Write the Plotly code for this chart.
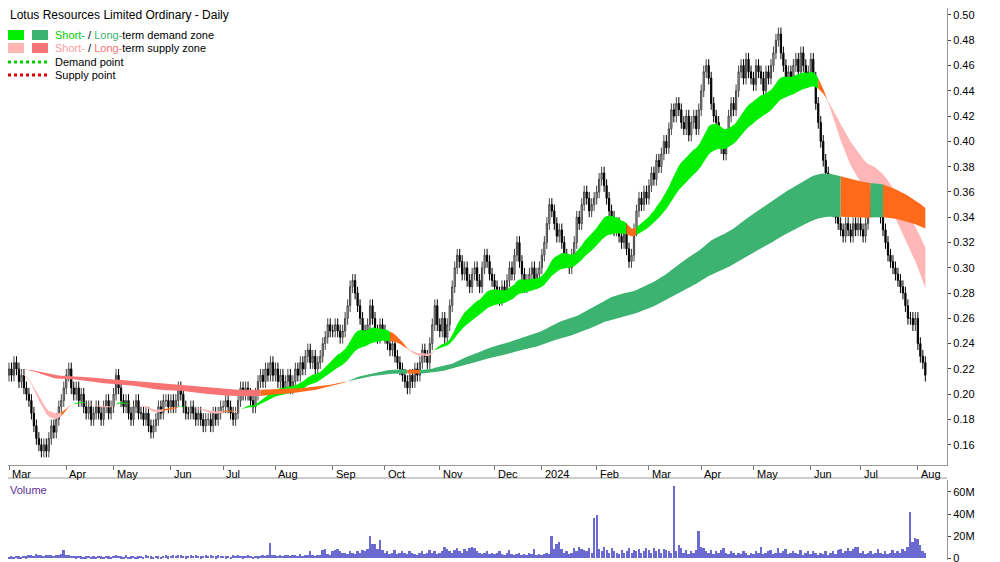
import numpy as np
import pandas as pd
import plotly.graph_objects as go

# daily closes, one list per month (Feb 2023 tail .. Aug 2024)
months = ["Feb", "Mar", "Apr", "May", "Jun", "Jul", "Aug", "Sep", "Oct", "Nov", "Dec",
          "2024", "Feb", "Mar", "Apr", "May", "Jun", "Jul", "Aug"]
close_m = [
    [0.220, 0.215],
    [0.220, 0.215, 0.225, 0.220, 0.210, 0.215, 0.205, 0.200, 0.195, 0.185, 0.175, 0.165, 0.160, 0.155, 0.160, 0.155, 0.165, 0.175, 0.170, 0.180, 0.190, 0.195, 0.205],
    [0.215, 0.220, 0.205, 0.200, 0.205, 0.195, 0.200, 0.190, 0.185, 0.190, 0.180, 0.185, 0.190, 0.185, 0.180, 0.190, 0.195, 0.185, 0.190],
    [0.200, 0.215, 0.205, 0.195, 0.190, 0.195, 0.185, 0.180, 0.190, 0.195, 0.185, 0.185, 0.180, 0.185, 0.175, 0.170, 0.175, 0.180, 0.190, 0.185, 0.195, 0.195, 0.190],
    [0.195, 0.190, 0.195, 0.205, 0.200, 0.190, 0.185, 0.185, 0.190, 0.185, 0.180, 0.185, 0.180, 0.175, 0.180, 0.180, 0.175, 0.185, 0.180, 0.185, 0.190],
    [0.190, 0.195, 0.190, 0.185, 0.180, 0.185, 0.195, 0.205, 0.200, 0.205, 0.200, 0.195, 0.190, 0.200, 0.210, 0.215, 0.210, 0.220, 0.215, 0.225, 0.215],
    [0.220, 0.210, 0.215, 0.205, 0.210, 0.215, 0.205, 0.210, 0.220, 0.215, 0.225, 0.220, 0.230, 0.235, 0.225, 0.230, 0.220, 0.225, 0.230, 0.240, 0.245, 0.255, 0.250],
    [0.250, 0.255, 0.250, 0.245, 0.250, 0.260, 0.270, 0.285, 0.290, 0.280, 0.270, 0.260, 0.250, 0.245, 0.255, 0.270, 0.260, 0.250, 0.245, 0.255, 0.250],
    [0.245, 0.240, 0.235, 0.240, 0.230, 0.225, 0.220, 0.215, 0.210, 0.205, 0.215, 0.210, 0.220, 0.215, 0.225, 0.235, 0.230, 0.225, 0.240, 0.255, 0.270, 0.255],
    [0.250, 0.260, 0.245, 0.255, 0.270, 0.285, 0.300, 0.310, 0.305, 0.295, 0.300, 0.290, 0.285, 0.295, 0.300, 0.290, 0.285, 0.300, 0.310, 0.305, 0.295, 0.290],
    [0.285, 0.280, 0.275, 0.285, 0.280, 0.290, 0.300, 0.295, 0.310, 0.320, 0.305, 0.295, 0.285, 0.290, 0.295, 0.300, 0.290, 0.295, 0.300],
    [0.310, 0.320, 0.335, 0.350, 0.345, 0.335, 0.325, 0.330, 0.320, 0.310, 0.305, 0.300, 0.310, 0.320, 0.340, 0.335, 0.350, 0.360, 0.355, 0.345, 0.350, 0.355],
    [0.360, 0.370, 0.375, 0.365, 0.355, 0.345, 0.340, 0.330, 0.335, 0.325, 0.320, 0.330, 0.315, 0.305, 0.310, 0.330, 0.345, 0.355, 0.350, 0.360, 0.355],
    [0.365, 0.375, 0.370, 0.385, 0.380, 0.390, 0.400, 0.395, 0.410, 0.425, 0.420, 0.430, 0.425, 0.415, 0.410, 0.420, 0.405, 0.415, 0.420, 0.410, 0.425],
    [0.440, 0.455, 0.460, 0.450, 0.430, 0.420, 0.415, 0.400, 0.395, 0.390, 0.405, 0.420, 0.430, 0.425, 0.440, 0.455, 0.460, 0.450, 0.465, 0.455, 0.450],
    [0.445, 0.460, 0.455, 0.450, 0.440, 0.455, 0.450, 0.460, 0.470, 0.480, 0.485, 0.470, 0.460, 0.450, 0.455, 0.445, 0.460, 0.465, 0.455, 0.470, 0.460, 0.450, 0.455],
    [0.465, 0.450, 0.430, 0.415, 0.400, 0.385, 0.375, 0.365, 0.355, 0.345, 0.340, 0.335, 0.330, 0.325, 0.335, 0.330, 0.325, 0.335, 0.330, 0.335],
    [0.330, 0.325, 0.335, 0.345, 0.365, 0.360, 0.350, 0.345, 0.340, 0.330, 0.320, 0.310, 0.305, 0.300, 0.295, 0.290, 0.285, 0.280, 0.270, 0.260, 0.260, 0.255, 0.260],
    [0.240, 0.230, 0.225, 0.215],
]
# daily volume in millions, same layout
vol_m = [
    [1.5, 1.2],
    [1, 1.5, 1, 2, 1.5, 1, 2, 1.5, 2.5, 3, 2, 3.5, 3, 2.5, 2, 3, 2.5, 3, 2, 2.5, 3, 4, 7],
    [3, 2.5, 2, 2, 1.5, 2, 1.5, 1, 1.5, 2, 1, 1.5, 1, 2, 1.5, 1, 2, 1.5, 1],
    [2, 3, 2, 1.5, 1, 2.5, 1, 1.5, 2, 1, 1.5, 2, 1, 2.5, 2, 1.5, 1, 2, 1.5, 1, 2, 2.5, 1.5],
    [2, 2.5, 2, 3, 2.5, 2, 1.5, 2, 3, 2, 2.5, 2, 1.5, 2, 3, 2, 2.5, 2, 1.5, 3, 2],
    [2, 1.5, 2, 1, 2.5, 2, 3, 2, 1.5, 2, 2.5, 2, 1, 2, 1.5, 2, 3, 2, 2.5, 14, 3],
    [2.5, 2, 3, 2, 2.5, 3, 2, 3, 2.5, 2, 3.5, 2, 3, 2.5, 6, 3, 2, 2.5, 3, 7, 8, 4, 3],
    [6, 7, 8, 6, 5, 5, 4, 6, 5, 4, 6, 5, 7, 6, 8, 20, 13, 13, 8, 16, 7],
    [5, 6, 4, 5, 7, 4, 5, 6, 5, 4, 6, 5, 4, 3, 5, 6, 4, 5, 7, 5, 6, 4],
    [5, 6, 10, 8, 6, 5, 7, 9, 6, 5, 8, 6, 9, 10, 9, 6, 5, 4, 5, 6, 4, 5],
    [4, 5, 6, 4, 3, 5, 7, 4, 3, 4, 5, 3, 4, 3, 5, 4, 8, 3, 4],
    [3, 4, 5, 4, 20, 8, 13, 15, 8, 5, 6, 4, 5, 9, 6, 10, 8, 7, 6, 9, 5, 36],
    [39, 8, 6, 10, 7, 5, 9, 6, 5, 4, 7, 5, 6, 9, 5, 7, 6, 8, 5, 6, 9],
    [7, 5, 9, 6, 8, 5, 8, 7, 6, 5, 65, 6, 12, 9, 5, 7, 4, 6, 5, 7, 25],
    [10, 9, 6, 5, 7, 4, 6, 5, 7, 9, 5, 4, 6, 5, 3, 5, 4, 6, 5, 3, 5],
    [4, 6, 5, 10, 4, 5, 6, 7, 4, 5, 9, 5, 6, 8, 4, 5, 6, 5, 4, 7, 3, 5, 6],
    [4, 6, 5, 3, 5, 4, 6, 3, 5, 6, 4, 7, 8, 5, 6, 9, 6, 8, 10, 10],
    [5, 6, 4, 5, 6, 4, 5, 8, 5, 4, 6, 4, 5, 7, 5, 6, 5, 8, 6, 10, 42, 15, 18],
    [17, 12, 6, 5],
]
price_ticks = [0.16, 0.18, 0.20, 0.22, 0.24, 0.26, 0.28, 0.30, 0.32, 0.34, 0.36, 0.38,
               0.40, 0.42, 0.44, 0.46, 0.48, 0.50]
vol_ticks = [0, 20, 40, 60]
vol_labels = ["0", "20M", "40M", "60M"]

close = np.array([c for m in close_m for c in m])
vol = np.array([v for m in vol_m for v in m]) * 1e6
n = len(close)
x = np.arange(n)
opn = np.r_[close[0], close[:-1]]
WICK = 0.005
high = np.maximum(opn, close) + WICK
low = np.minimum(opn, close) - WICK
month_start = np.cumsum([0] + [len(m) for m in close_m[:-1]])

s = pd.Series(close)
ref_price = s.ewm(span=4).mean().values  # lightly smoothed price used to colour the zones
bands = [  # fast, slow, demand, supply
    (s.ewm(span=25).mean().values, s.ewm(span=45).mean().values, "#00ee00", "#ffb6b6"),
    (s.ewm(span=160, adjust=False).mean().values, s.ewm(span=250, adjust=False).mean().values,
     "#3cb371", "#f87474"),
]
ORANGE = "#ff6a1a"

fig = go.Figure()
for fast, slow, dcol, scol in bands:
    lo_b, hi_b = np.minimum(fast, slow), np.maximum(fast, slow)
    state = []
    for i in range(n):
        if fast[i] >= slow[i] and ref_price[i] >= lo_b[i]:
            state.append(dcol)
        elif fast[i] < slow[i] and ref_price[i] <= hi_b[i]:
            state.append(scol)
        else:
            state.append(ORANGE)
    i = 0
    while i < n:
        j = i
        while j + 1 < n and state[j + 1] == state[i]:
            j += 1
        k = min(j + 1, n - 1)
        xs = list(x[i:k + 1]) + list(x[i:k + 1][::-1])
        ys = list(hi_b[i:k + 1]) + list(lo_b[i:k + 1][::-1])
        fig.add_trace(go.Scatter(x=xs, y=ys, fill="toself", fillcolor=state[i],
                                 line=dict(width=0), mode="lines", hoverinfo="skip",
                                 showlegend=False, yaxis="y"))
        i = j + 1

fig.add_trace(go.Candlestick(
    x=x, open=opn, high=high, low=low, close=close, showlegend=False,
    increasing=dict(line=dict(color="#444444", width=1), fillcolor="#c8c8c8"),
    decreasing=dict(line=dict(color="#000000", width=1), fillcolor="#000000"),
    whiskerwidth=0, yaxis="y"))

fig.add_trace(go.Bar(x=x, y=vol, marker_color="#6a6ad0", marker_line_width=0,
                     showlegend=False, yaxis="y2", xaxis="x2", width=0.8))

# the page sits 8px in from the window corner; helpers map window pixels to paper
W, H, R = 1000, 562, 61
def px(v):
    return (v - 8) / (W - R)
def py(v):
    return 1 - (v - 8) / H

xr = [1.6, 378.7]
font = dict(family="Liberation Sans, Arial", size=11, color="#000")
fig.update_layout(
    width=W, height=H, margin=dict(l=0, r=R, t=0, b=0, autoexpand=False),
    plot_bgcolor="white", paper_bgcolor="white", font=font, bargap=0,
    xaxis=dict(domain=[0, 1], range=xr, showticklabels=False,
               tickvals=month_start[1:], ticks="outside", ticklen=4, tickcolor="#777",
               showgrid=False, zeroline=False, showline=True, linecolor="#999",
               rangeslider=dict(visible=False), anchor="y", automargin=False),
    yaxis=dict(domain=[py(465), 1], range=[0.144, 0.5055], side="right",
               tickvals=price_ticks, tickformat=".2f", ticks="outside", ticklen=3,
               showgrid=False, zeroline=False, showline=True, linecolor="#999",
               automargin=False),
    xaxis2=dict(domain=[0, 1], range=xr, showticklabels=False,
                showgrid=False, zeroline=False, anchor="y2", matches="x",
                automargin=False),
    yaxis2=dict(domain=[py(560), py(480)], range=[-1.8e6, 70.9e6], side="right",
                tickvals=[v * 1e6 for v in vol_ticks], ticktext=vol_labels,
                ticks="outside", ticklen=3, showgrid=False, zeroline=False,
                showline=True, linecolor="#999", anchor="x2", automargin=False),
)
fig.add_shape(type="line", xref="paper", yref="paper", x0=0, x1=1, y0=py(478), y1=py(478),
              line=dict(color="#999", width=1))

for m, xi in zip(months[1:], month_start[1:]):
    fig.add_annotation(x=xi, y=py(465), xref="x", yref="paper", text=m, showarrow=False,
                       xanchor="left", yanchor="top", xshift=1, yshift=-1,
                       font=dict(size=11))

fig.add_annotation(x=0, y=1.0, xref="paper", yref="paper", xanchor="left",
                   yanchor="top", showarrow=False, yshift=2,
                   text="Lotus Resources Limited Ordinary - Daily",
                   font=dict(size=12, color="#000"))
legend = [
    ("#00ee00", "#3cb371", "<span style='color:#00cc00'>Short-</span> / "
     "<span style='color:#3cb371'>Long-</span>term demand zone"),
    ("#ffb6b6", "#f87474", "<span style='color:#ffa0a0'>Short-</span> / "
     "<span style='color:#f87474'>Long-</span>term supply zone"),
]
for k, (c1, c2, txt) in enumerate(legend):
    yc = 35 + k * 13
    for j, c in enumerate([c1, c2]):
        fig.add_shape(type="rect", xref="paper", yref="paper",
                      x0=px(8 + j * 24), x1=px(24 + j * 24),
                      y0=py(yc + 5), y1=py(yc - 5), fillcolor=c, line_width=0)
    fig.add_annotation(x=px(53), y=py(yc), xref="paper", yref="paper",
                       xanchor="left", yanchor="middle", showarrow=False, text=txt,
                       font=dict(size=11))
for k, (c, txt) in enumerate([("#00cc00", "Demand point"), ("#dd0000", "Supply point")]):
    yc = 62 + k * 13
    fig.add_shape(type="line", xref="paper", yref="paper", x0=px(8), x1=px(48),
                  y0=py(yc), y1=py(yc), line=dict(color=c, width=3, dash="dot"))
    fig.add_annotation(x=px(53), y=py(yc), xref="paper", yref="paper",
                       xanchor="left", yanchor="middle", showarrow=False, text=txt,
                       font=dict(size=11))
fig.add_annotation(x=0, y=py(482), xref="paper", yref="paper", xanchor="left",
                   yanchor="top", showarrow=False, text="Volume",
                   font=dict(size=11, color="#5a2d91"))

fig.write_html("out.html")
